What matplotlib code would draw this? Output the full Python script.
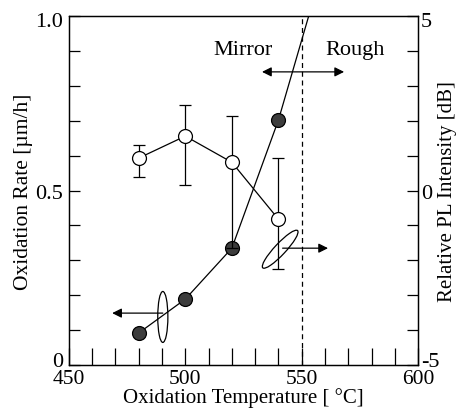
import matplotlib.pyplot as plt
from matplotlib.patches import Ellipse
from matplotlib.ticker import MultipleLocator
from matplotlib.transforms import ScaledTranslation

plt.rcParams["font.family"] = ["Liberation Serif", "DejaVu Serif"]

# oxidation rate (left axis, filled circles)
rate_temp = [480, 500, 520, 540]
rate = [0.092, 0.189, 0.335, 0.702]
# extrapolated part of the rate curve beyond the last point
rate_ext_temp = [540, 553]
rate_ext = [0.702, 1.0]

# relative PL intensity (right axis, open circles)
pl_temp = [480, 500, 520, 540]
pl = [0.93, 1.56, 0.81, -0.82]
pl_err_hi = [1.31, 2.45, 2.13, 0.92]
pl_err_lo = [0.40, 0.17, -1.65, -2.25]

boundary_temp = 550

x_ticks = [450, 500, 550, 600]
left_ticks = [0, 0.5, 1.0]
left_labels = ["0", "0.5", "1.0"]
right_ticks = [-5, 0, 5]
right_labels = ["-5", "0", "5"]

fig = plt.figure(figsize=(4.59, 4.10), dpi=100)
ax = fig.add_axes([0.150, 0.107, 0.761, 0.8515])
ax2 = ax.twinx()

ax.plot(rate_ext_temp, rate_ext, color="black", lw=0.9, zorder=2)
ax.plot(rate_temp, rate, color="black", lw=0.9, marker="o", ms=10,
        mfc="#3c3c3c", mec="black", mew=0.9, zorder=3)

yerr = [[p - lo for p, lo in zip(pl, pl_err_lo)],
        [hi - p for p, hi in zip(pl, pl_err_hi)]]
ax2.errorbar(pl_temp, pl, yerr=yerr, color="black", lw=0.9, elinewidth=0.9,
             capsize=4.5, capthick=0.9, marker="o", ms=10, mfc="white",
             mec="black", mew=0.9, zorder=3)

ax.axvline(boundary_temp, color="black", lw=0.9, ls=(0, (4, 3)))

ax.set_xlim(450, 600)
ax.set_ylim(0, 1.0)
ax2.set_ylim(-5, 5)

ax.set_xticks(x_ticks)
ax.xaxis.set_minor_locator(MultipleLocator(10))
ax.set_yticks(left_ticks)
ax.set_yticklabels(left_labels)
ax.yaxis.set_minor_locator(MultipleLocator(0.1))
ax2.set_yticks(right_ticks)
ax2.set_yticklabels(right_labels)
ax2.yaxis.set_minor_locator(MultipleLocator(1))

ax.tick_params(axis="x", which="both", direction="in", length=12, width=0.9,
               labelsize=15.5, pad=3, top=False)
ax.tick_params(axis="y", which="both", direction="in", length=8, width=0.9,
               labelsize=16, pad=4)
ax2.tick_params(axis="y", which="both", direction="in", length=8, width=0.9,
                labelsize=16, pad=2)
for a in (ax, ax2):
    for s in a.spines.values():
        s.set_linewidth(0.9)

# nudge the end labels inward like the original
fig.canvas.draw()
lab_l = ax.get_yticklabels()
lab_r = ax2.get_yticklabels()
for lab, dy in ((lab_l[0], 0.06), (lab_l[-1], -0.03), (lab_r[0], 0.06), (lab_r[-1], -0.03)):
    lab.set_transform(lab.get_transform() + ScaledTranslation(0, dy, fig.dpi_scale_trans))

ax.set_xlabel("Oxidation Temperature [ \u00b0C]", fontsize=15, labelpad=-1)
ax.set_ylabel("Oxidation Rate [\u00b5m/h]", fontsize=15.5, labelpad=2)
ax2.set_ylabel("Relative PL Intensity [dB]", fontsize=15, labelpad=-1)

# Mirror / Rough annotation
ax.text(0.499, 0.905, "Mirror", transform=ax.transAxes, fontsize=16,
        ha="center", va="center")
ax.text(0.82, 0.905, "Rough", transform=ax.transAxes, fontsize=16,
        ha="center", va="center")
ax.annotate("", xy=(0.553, 0.84), xytext=(0.788, 0.84), xycoords="axes fraction",
            arrowprops=dict(arrowstyle="<|-|>", color="black", lw=0.9,
                            mutation_scale=14, shrinkA=0, shrinkB=0))

# axis markers: left arrow for rate, right arrow for PL
ax.add_patch(Ellipse((0.269, 0.138), 0.029, 0.146, transform=ax.transAxes,
                     fill=False, ec="black", lw=0.9))
ax.annotate("", xy=(0.124, 0.149), xytext=(0.269, 0.149), xycoords="axes fraction",
            arrowprops=dict(arrowstyle="-|>", color="black", lw=0.9,
                            mutation_scale=14, shrinkA=0, shrinkB=0))
ax.add_patch(Ellipse((0.605, 0.332), 0.032, 0.146, angle=-43,
                     transform=ax.transAxes, fill=False, ec="black", lw=0.9))
ax.annotate("", xy=(0.742, 0.335), xytext=(0.612, 0.335), xycoords="axes fraction",
            arrowprops=dict(arrowstyle="-|>", color="black", lw=0.9,
                            mutation_scale=14, shrinkA=0, shrinkB=0))

fig.savefig("out.png", dpi=100)
